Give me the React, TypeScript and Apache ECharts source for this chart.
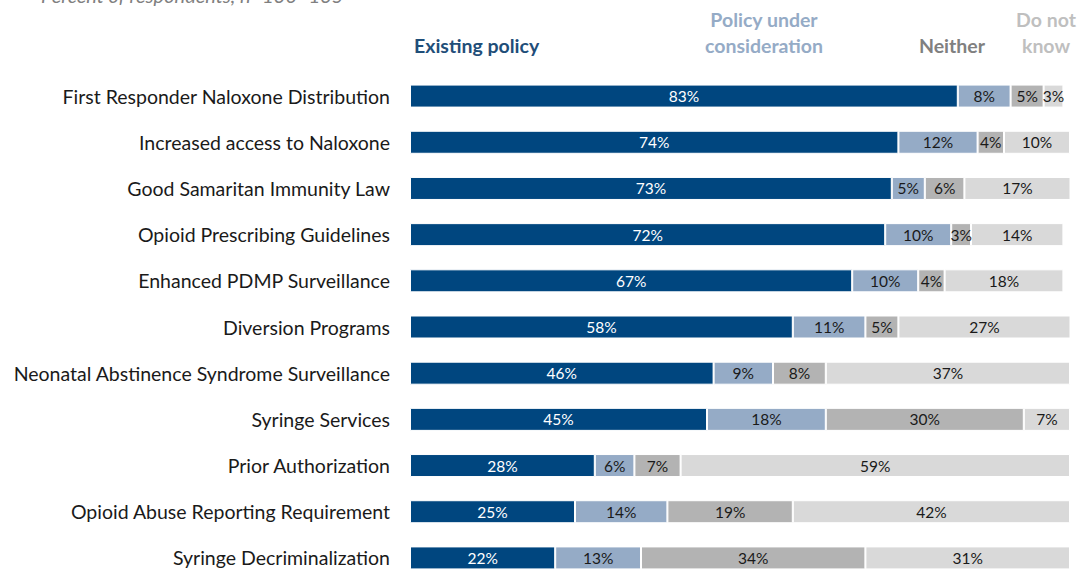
import React, { useEffect, useRef } from "react";
import * as echarts from "echarts";

const categories = [
  "First Responder Naloxone Distribution",
  "Increased access to Naloxone",
  "Good Samaritan Immunity Law",
  "Opioid Prescribing Guidelines",
  "Enhanced PDMP Surveillance",
  "Diversion Programs",
  "Neonatal Abstinence Syndrome Surveillance",
  "Syringe Services",
  "Prior Authorization",
  "Opioid Abuse Reporting Requirement",
  "Syringe Decriminalization",
];

const existingPolicy = [83, 74, 73, 72, 67, 58, 46, 45, 28, 25, 22];
const underConsideration = [8, 12, 5, 10, 10, 11, 9, 18, 6, 14, 13];
const neither = [5, 4, 6, 3, 4, 5, 8, 30, 7, 19, 34];
const doNotKnow = [3, 10, 17, 14, 18, 27, 37, 7, 59, 42, 31];

const seriesNames = ["Existing policy", "Policy under consideration", "Neither", "Do not know"];
const colors = ["#00467F", "#95ABC6", "#B3B3B3", "#D9D9D9"];
const labelColors = ["#FFFFFF", "#1A1A1A", "#1A1A1A", "#1A1A1A"];

const FONT = "Lato, 'Noto Sans', sans-serif";

export default function App() {
  const ref = useRef<HTMLDivElement>(null);

  useEffect(() => {
    if (!ref.current) return;
    const chart = echarts.init(ref.current, undefined, { renderer: "svg" });
    const dataSets = [existingPolicy, underConsideration, neither, doNotKnow];
    const headerStyle = {
      fontSize: 19.5,
      fontWeight: "bold",
      fontFamily: FONT,
      verticalAlign: "middle",
      lineHeight: 26,
    };
    chart.setOption({
      animation: false,
      backgroundColor: "#FFFFFF",
      textStyle: { fontFamily: FONT },
      grid: { left: 410, right: 17, top: 73, height: 508, containLabel: false },
      xAxis: {
        type: "value",
        min: 0,
        max: 100,
        show: false,
      },
      yAxis: {
        type: "category",
        data: categories,
        inverse: true,
        axisLine: { show: false },
        axisTick: { show: false },
        axisLabel: {
          margin: 20,
          fontSize: 19.5,
          color: "#1A1A1A",
          fontFamily: FONT,
        },
      },
      series: dataSets.map((d, i) => ({
        name: seriesNames[i],
        type: "bar",
        stack: "total",
        barWidth: 23,
        data: d,
        itemStyle: { color: colors[i], borderColor: "#FFFFFF", borderWidth: 1 },
        label: {
          show: true,
          position: "inside",
          formatter: "{c}%",
          color: labelColors[i],
          fontSize: 15.5,
          fontFamily: FONT,
        },
      })),
      graphic: [
        {
          type: "text",
          x: 41,
          y: 5,
          style: {
            text: "Percent of respondents, n=130–135",
            fontSize: 20,
            fontStyle: "italic",
            fontFamily: FONT,
            fill: "#808080",
            align: "left",
            verticalAlign: "bottom",
          },
        },
        {
          type: "text",
          x: 414,
          y: 45,
          style: { ...headerStyle, text: "Existing policy", fill: "#1F4E79", align: "left" },
        },
        {
          type: "text",
          x: 764,
          y: 32,
          style: { ...headerStyle, text: "Policy under\nconsideration", fill: "#95ABC6", align: "center" },
        },
        {
          type: "text",
          x: 952,
          y: 45,
          style: { ...headerStyle, text: "Neither", fill: "#808080", align: "center" },
        },
        {
          type: "text",
          x: 1046,
          y: 32,
          style: { ...headerStyle, text: "Do not\nknow", fill: "#BFBFBF", align: "center" },
        },
      ],
    });
    return () => chart.dispose();
  }, []);

  return (
    <div
      style={{ position: "fixed", left: 0, top: 0, width: 1087, height: 570, overflow: "hidden" }}
    >
      <div ref={ref} style={{ width: 1087, height: 600 }} />
    </div>
  );
}
